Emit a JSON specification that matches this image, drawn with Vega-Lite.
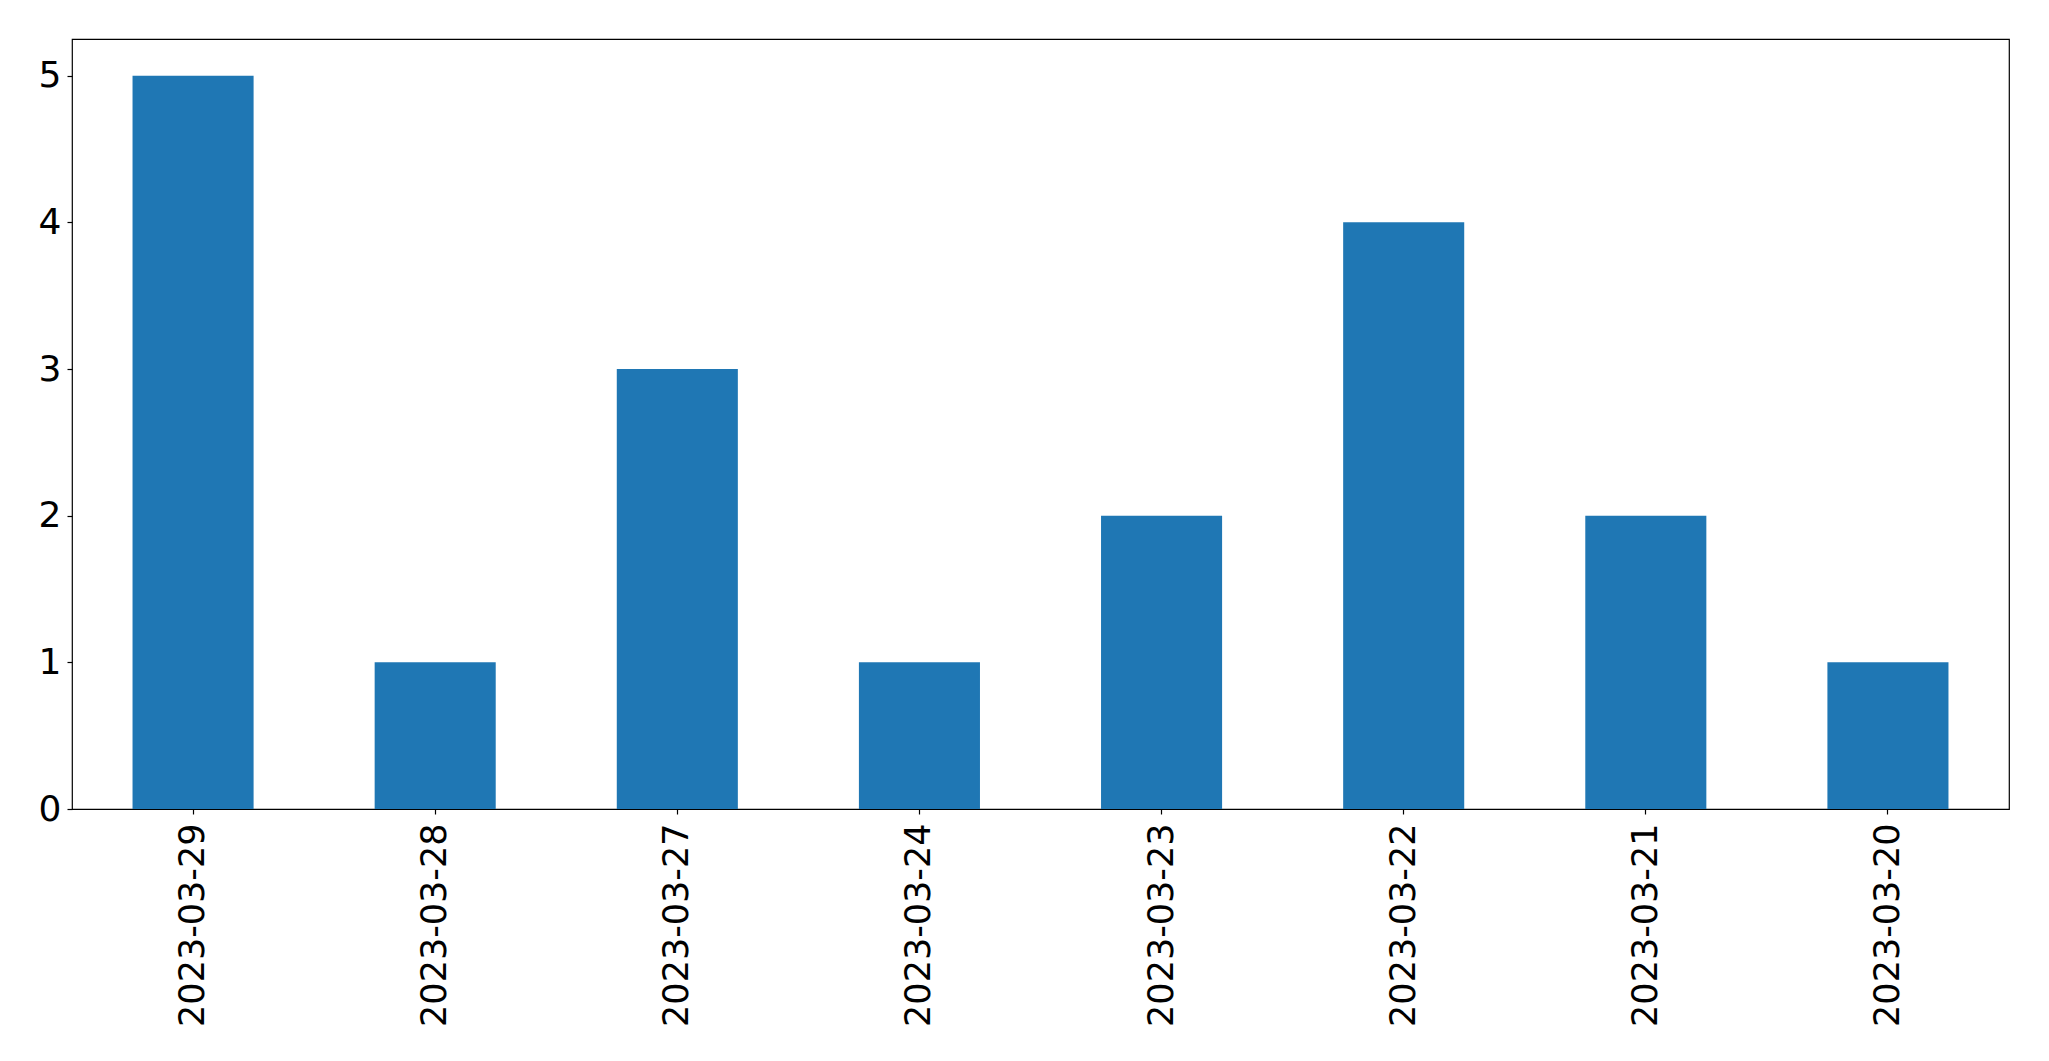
{
  "$schema": "https://vega.github.io/schema/vega-lite/v6.json",
  "width": 1937,
  "height": 770,
  "autosize": {"type": "none"},
  "padding": {"left": 72, "top": 39, "right": 40, "bottom": 252},
  "background": "white",
  "config": {
    "view": {"stroke": "black", "strokeWidth": 1.2},
    "font": "DejaVu Sans",
    "axis": {"labelFont": "DejaVu Sans", "labelColor": "black", "tickColor": "black", "domain": false, "grid": false, "tickSize": 5, "tickWidth": 1.2, "labelLimit": 0}
  },
  "data": {
    "values": [
      {"date": "2023-03-29", "count": 5},
      {"date": "2023-03-28", "count": 1},
      {"date": "2023-03-27", "count": 3},
      {"date": "2023-03-24", "count": 1},
      {"date": "2023-03-23", "count": 2},
      {"date": "2023-03-22", "count": 4},
      {"date": "2023-03-21", "count": 2},
      {"date": "2023-03-20", "count": 1}
    ]
  },
  "mark": {"type": "bar", "color": "#1f77b4"},
  "encoding": {
    "x": {
      "field": "date",
      "type": "nominal",
      "sort": null,
      "scale": {"paddingInner": 0.5, "paddingOuter": 0.25},
      "axis": {"title": null, "labelAngle": -90, "labelFontSize": 35, "labelPadding": 9, "labelAlign": "right", "labelBaseline": "middle"}
    },
    "y": {
      "field": "count",
      "type": "quantitative",
      "scale": {"domain": [0, 5.25], "nice": false},
      "axis": {"title": null, "values": [0, 1, 2, 3, 4, 5], "labelFontSize": 36, "labelPadding": 6}
    }
  }
}
